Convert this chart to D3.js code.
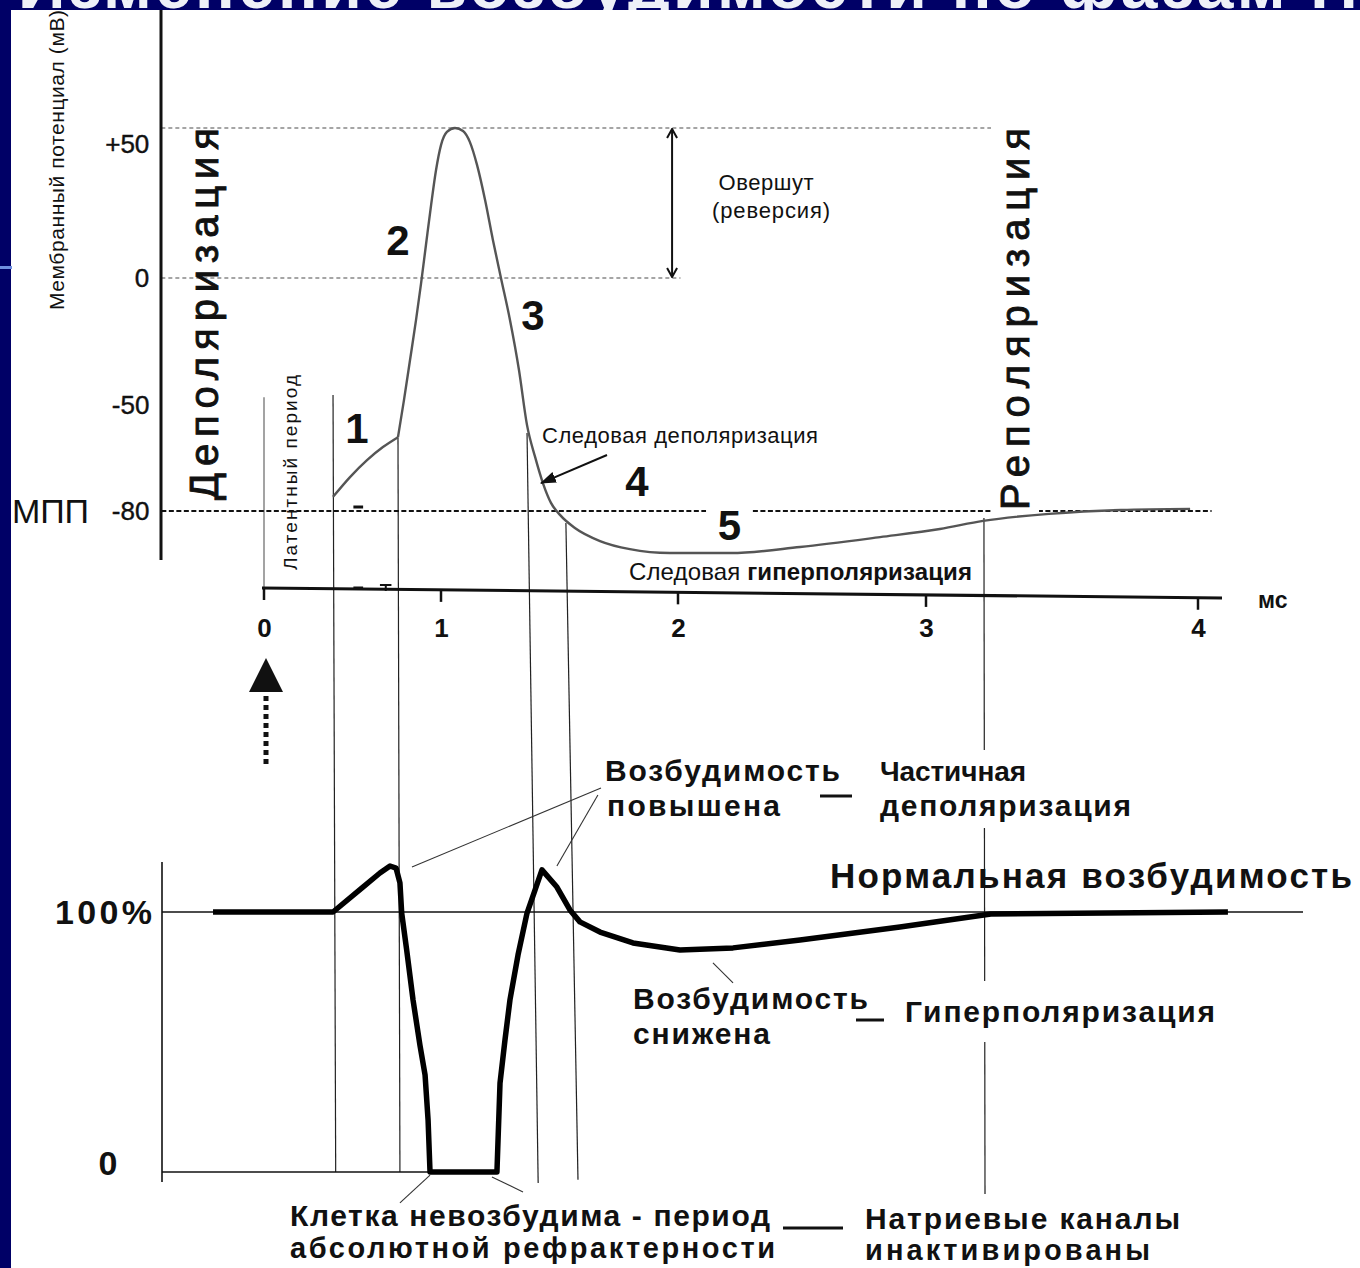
<!DOCTYPE html>
<html lang="ru">
<head>
<meta charset="utf-8">
<title>Изменение возбудимости в разные фазы потенциала действия</title>
<script src="https://cdn.jsdelivr.net/npm/d3@7/dist/d3.min.js"></script>
<style>
  html, body { margin: 0; padding: 0; background: #fff; }
  svg { display: block; }
  text { font-family: 'Liberation Sans', Arial, sans-serif; fill: #111; }
</style>
</head>
<body>
<svg id="chart" width="1360" height="1268"></svg>
<script>
// ---------- axes ----------
const timeTicks = [0, 1, 2, 3, 4];                 // ms
const mvTicks = [50, 0, -50, -80];                 // mV
const mvTickLabels = ['+50', '0', '-50', '-80'];

// ---------- phase 1: local response (ms, mV) ----------
const localMs = [0.390, 0.486, 0.582, 0.672, 0.757];
const localMv = [-76.0, -70.4, -65.6, -61.9, -59.1];

// ---------- phases 2–5: spike, repolarisation, after-potentials ----------
const spikeMs = [0.757, 0.791, 0.825, 0.859, 0.887, 0.915, 0.944, 0.972, 1.000, 1.025,
                 1.059, 1.093, 1.122, 1.152, 1.186, 1.219, 1.253, 1.291, 1.329, 1.363,
                 1.397, 1.430, 1.464, 1.502, 1.565, 1.671, 1.797, 1.966, 2.214, 2.492,
                 2.815, 3.051, 3.210, 3.452, 3.717, 3.971];
const spikeMv = [-59.1, -48.0, -32.3, -16.5, -2.3, 11.0, 24.3, 36.0, 44.3, 48.7,
                 50.0, 49.0, 45.3, 37.7, 26.0, 12.7, 0.0, -16.5, -36.2, -55.7,
                 -64.7, -72.1, -77.7, -81.1, -84.8, -88.5, -90.8, -91.9, -91.9, -90.2,
                 -87.4, -85.1, -82.8, -80.8, -79.7, -79.4];

// ---------- excitability, % of the resting level ----------
const excitMs = [-0.288, 0.390, 0.559, 0.655, 0.712, 0.746, 0.768, 0.778, 0.806, 0.842,
                 0.881, 0.910, 0.927, 0.938, 1.236, 1.249, 1.270, 1.291, 1.325, 1.363,
                 1.397, 1.426, 1.489, 1.544, 1.586, 1.671, 1.810, 2.008, 2.222, 2.492,
                 2.895, 3.238, 4.110];
const excitPct = [100, 100, 109.6, 115.0, 117.7, 116.9, 111.2, 99.6, 85.4, 66.2,
                  48.8, 37.3, 20.0, 0, 0, 34.2, 50.8, 66.2, 83.5, 99.6,
                  108.5, 116.2, 109.6, 100.8, 96.2, 92.3, 88.1, 85.4, 86.2, 89.2,
                  94.2, 99.2, 100];

// ---------- dotted reference levels (mV) and where they stop (ms) ----------
const refLevelMv = [50, 0];
const refLevelEndMs = [3.29, 2.01];
const restMv = -80;
const restSegStartMs = [-0.58, 2.302];
const restSegEndMs = [2.113, 4.05];

// ---------- phase numbers ----------
const phaseNames = ['1', '2', '3', '4', '5'];
const phaseMs = [0.525, 0.757, 1.388, 1.827, 2.207];
const phaseMv = [-56.5, 12.7, -14.6, -71.5, -84.0];

// ---------- vertical guides joining the two panels ----------
const guideTopMs = [0.390, 0.757, 1.363, 1.527, 3.213];
const guideTopMv = [-46.1, -59.1, -57.9, -83.4, -82.0];
const guideBottomMs = [0.405, 0.768, 1.410, 1.578, 3.217];
const guideBottomPct = [0, 0, -4.2, -3.0, -10.0];

// ---------- pointer lines in the excitability panel ----------
const pointerFromMs = [1.675, 1.662, 2.141, 0.768, 1.215];
const pointerFromPct = [147.7, 145.0, 80.4, -11.9, -1.9];
const pointerToMs = [0.836, 1.489, 2.222, 0.938, 1.346];
const pointerToPct = [117.3, 117.7, 72.7, -1.2, -7.7];

const overshootMs = 1.975;

// ================== drawing ==================
const svg = d3.select('#chart');
const W = 1360, H = 1268;
svg.append('rect').attr('width', W).attr('height', H).attr('fill', '#fff');

const x = d3.scaleLinear().domain(timeTicks).range([264, 441, 678, 926, 1198]);
const yMem = d3.scaleLinear().domain([-80, -50, 0, 50]).range([511, 405, 278, 128]);
const yExc = d3.scaleLinear().domain([0, 100]).range([1172, 912]);

const defs = svg.append('defs');
defs.append('marker').attr('id', 'chev').attr('viewBox', '0 0 12 12')
  .attr('refX', 11).attr('refY', 6).attr('markerWidth', 12).attr('markerHeight', 12)
  .attr('markerUnits', 'userSpaceOnUse').attr('orient', 'auto-start-reverse')
  .append('path').attr('d', 'M2,1 L11,6 L2,11').attr('fill', 'none')
  .attr('stroke', '#111').attr('stroke-width', 2);
defs.append('marker').attr('id', 'solidHead').attr('viewBox', '0 0 14 10')
  .attr('refX', 13).attr('refY', 5).attr('markerWidth', 16).attr('markerHeight', 12)
  .attr('markerUnits', 'userSpaceOnUse').attr('orient', 'auto')
  .append('path').attr('d', 'M0,0 L14,5 L0,10 Z').attr('fill', '#111');

function label(g, str, px, py, o = {}) {
  const t = g.append('text').attr('x', px).attr('y', py).text(str)
    .attr('font-size', o.size || 28)
    .attr('font-weight', o.bold ? 'bold' : 'normal')
    .attr('text-anchor', o.anchor || 'start');
  if (o.family) t.attr('font-family', o.family);
  if (o.len) t.attr('textLength', o.len).attr('lengthAdjust', 'spacing');
  if (o.stroke) t.attr('stroke', '#111').attr('stroke-width', o.stroke);
  if (o.rotate) t.attr('transform', `rotate(-90 ${px} ${py})`);
  if (o.bg) {
    const b = t.node().getBBox();
    const pad = o.bg;
    g.insert('rect', () => t.node())
      .attr('x', b.x - pad).attr('y', b.y - pad)
      .attr('width', b.width + 2 * pad).attr('height', b.height + 2 * pad)
      .attr('fill', '#fff')
      .attr('transform', o.rotate ? `rotate(-90 ${px} ${py})` : null);
  }
  return t;
}

const axisX = x(-0.58);

// ---------- guides (drawn first, under everything else) ----------
const gGuides = svg.append('g').attr('stroke', '#222').attr('stroke-width', 1.2);
gGuides.selectAll('line.guide').data(d3.range(guideTopMs.length)).join('line')
  .attr('class', 'guide')
  .attr('x1', i => x(guideTopMs[i])).attr('y1', i => yMem(guideTopMv[i]))
  .attr('x2', i => x(guideBottomMs[i])).attr('y2', i => yExc(guideBottomPct[i]));

// latent period marker at the stimulus moment
const axisLineY = px => 588 + (px - 262) * 10 / 960;
gGuides.append('line').attr('stroke', '#666')
  .attr('x1', x(0)).attr('x2', x(0))
  .attr('y1', yMem(-46.9)).attr('y2', axisLineY(x(0)));

// ---------- upper panel: membrane potential ----------
const gTop = svg.append('g');

// dotted reference levels
gTop.selectAll('line.ref').data(refLevelMv).join('line').attr('class', 'ref')
  .attr('x1', axisX).attr('x2', (d, i) => x(refLevelEndMs[i]))
  .attr('y1', d => yMem(d)).attr('y2', d => yMem(d))
  .attr('stroke', '#888').attr('stroke-width', 1.3).attr('stroke-dasharray', '4,3');

gTop.selectAll('line.rest').data(restSegStartMs).join('line').attr('class', 'rest')
  .attr('x1', d => Math.max(axisX, x(d))).attr('x2', (d, i) => x(restSegEndMs[i]))
  .attr('y1', yMem(restMv)).attr('y2', yMem(restMv))
  .attr('stroke', '#111').attr('stroke-width', 2.2).attr('stroke-dasharray', '5,2.5');

// vertical potential axis
gTop.append('line').attr('x1', 161).attr('x2', 161).attr('y1', 8).attr('y2', 560)
  .attr('stroke', '#111').attr('stroke-width', 3);

// tick labels
const yAxis = d3.axisLeft(yMem).tickValues(mvTicks)
  .tickFormat((d, i) => mvTickLabels[i]).tickSize(0).tickPadding(12);
const gy = gTop.append('g').attr('transform', `translate(${axisX},0)`).call(yAxis);
gy.select('.domain').remove();
gy.selectAll('text').attr('font-size', 26).attr('fill', '#111')
  .attr('stroke', '#111').attr('stroke-width', 0.4)
  .attr('font-family', "'Liberation Sans', Arial, sans-serif")
  .attr('dy', d => d === 50 ? '0.95em' : '0.32em');

label(gTop, 'МПП', 12, 523, { size: 34, len: 77 });

// axis title
label(gTop, 'Мембранный потенциал (мВ)', 64, 310, { size: 21, rotate: true, len: 300 });

// phase names written along the side
const wide = "'DejaVu Sans', Verdana, sans-serif";
label(gTop, 'Деполяризация', 218, 500, { size: 40, rotate: true, len: 372, family: wide, stroke: 0.9 });
label(gTop, 'Реполяризация', 1029, 510, { size: 40, rotate: true, len: 382, bg: 2, family: wide, stroke: 0.9 });
label(gTop, 'Латентный период', 297, 570, { size: 19, rotate: true, len: 195 });

// action potential
const lineMem = d3.line().x(d => x(d[0])).y(d => yMem(d[1])).curve(d3.curveMonotoneX);
gTop.append('path').datum(d3.zip(localMs, localMv)).attr('d', lineMem)
  .attr('fill', 'none').attr('stroke', '#555').attr('stroke-width', 2.4);
gTop.append('path').datum(d3.zip(spikeMs, spikeMv)).attr('d', lineMem)
  .attr('fill', 'none').attr('stroke', '#555').attr('stroke-width', 2.4)
  .attr('stroke-linejoin', 'round');

// time axis (slightly slanted baseline)
gTop.append('line').attr('x1', 262).attr('y1', axisLineY(262))
  .attr('x2', 1222).attr('y2', axisLineY(1222))
  .attr('stroke', '#111').attr('stroke-width', 3);
gTop.selectAll('line.tick').data(timeTicks).join('line').attr('class', 'tick')
  .attr('x1', d => x(d)).attr('x2', d => x(d))
  .attr('y1', d => axisLineY(x(d))).attr('y2', d => axisLineY(x(d)) + 12)
  .attr('stroke', '#111').attr('stroke-width', 2.5);
const xAxis = d3.axisBottom(x).tickValues(timeTicks).tickSize(0).tickPadding(0).tickFormat(d3.format('d'));
const gx = gTop.append('g').attr('transform', 'translate(0,619)').call(xAxis);
gx.select('.domain').remove();
gx.selectAll('text').attr('font-size', 26).attr('font-weight', 'bold').attr('fill', '#111')
  .attr('font-family', "'Liberation Sans', Arial, sans-serif");
label(gTop, 'мс', 1258, 608, { size: 23, bold: true });

// small marks under phase 1
gTop.append('line').attr('x1', x(0.505)).attr('x2', x(0.56)).attr('y1', 507).attr('y2', 507)
  .attr('stroke', '#111').attr('stroke-width', 3);
gTop.append('line').attr('x1', x(0.505)).attr('x2', x(0.56)).attr('y1', 588).attr('y2', 588)
  .attr('stroke', '#111').attr('stroke-width', 3);
gTop.append('path').attr('d', `M${x(0.655)},585 H${x(0.72)} M${x(0.688)},585 V591`)
  .attr('stroke', '#111').attr('stroke-width', 2).attr('fill', 'none');

// phase numbers
gTop.selectAll('text.phase').data(phaseNames).join('text').attr('class', 'phase')
  .attr('x', (d, i) => x(phaseMs[i])).attr('y', (d, i) => yMem(phaseMv[i]) + 15)
  .attr('text-anchor', 'middle').attr('font-size', 42).attr('font-weight', 'bold')
  .text(d => d);

// overshoot double arrow
gTop.append('line').attr('x1', x(overshootMs)).attr('x2', x(overshootMs))
  .attr('y1', yMem(50) + 1).attr('y2', yMem(0) - 1)
  .attr('stroke', '#111').attr('stroke-width', 2)
  .attr('marker-start', 'url(#chev)').attr('marker-end', 'url(#chev)');
label(gTop, 'Овершут', 766, 190, { size: 22, anchor: 'middle', len: 95 });
label(gTop, '(реверсия)', 771, 218, { size: 22, anchor: 'middle', len: 118 });

// after-depolarisation pointer
label(gTop, 'Следовая деполяризация', 542, 443, { size: 22, len: 276 });
gTop.append('line').attr('x1', 607).attr('y1', 455)
  .attr('x2', x(1.422)).attr('y2', yMem(-72.1))
  .attr('stroke', '#111').attr('stroke-width', 2).attr('marker-end', 'url(#solidHead)');

const hyper = gTop.append('text').attr('x', 629).attr('y', 580).attr('font-size', 24)
  .attr('textLength', 343).attr('lengthAdjust', 'spacing');
hyper.append('tspan').text('Следовая ');
hyper.append('tspan').attr('font-weight', 'bold').text('гиперполяризация');

// ---------- stimulus arrow ----------
const gStim = svg.append('g');
gStim.append('path')
  .attr('d', `M${x(0) + 2},658 L${x(0) + 19},692 L${x(0) - 15},692 Z`).attr('fill', '#111');
gStim.append('line').attr('x1', x(0) + 2).attr('x2', x(0) + 2).attr('y1', 696).attr('y2', 766)
  .attr('stroke', '#111').attr('stroke-width', 5).attr('stroke-dasharray', '5,4');

// ---------- lower panel: excitability ----------
const gBot = svg.append('g');
gBot.append('line').attr('x1', 162).attr('x2', 162).attr('y1', 862).attr('y2', 1182)
  .attr('stroke', '#111').attr('stroke-width', 1.6);
gBot.append('line').attr('x1', 162).attr('x2', 1303).attr('y1', yExc(100)).attr('y2', yExc(100))
  .attr('stroke', '#111').attr('stroke-width', 1.4);
gBot.append('line').attr('x1', 162).attr('x2', x(0.938)).attr('y1', yExc(0)).attr('y2', yExc(0))
  .attr('stroke', '#111').attr('stroke-width', 1.4);

label(gBot, '100%', 152, yExc(100) + 12, { size: 34, bold: true, anchor: 'end', len: 97 });
label(gBot, '0', 108, yExc(0) + 3, { size: 34, bold: true, anchor: 'middle' });

gBot.selectAll('line.ptr').data(d3.range(pointerFromMs.length)).join('line').attr('class', 'ptr')
  .attr('x1', i => x(pointerFromMs[i])).attr('y1', i => yExc(pointerFromPct[i]))
  .attr('x2', i => x(pointerToMs[i])).attr('y2', i => yExc(pointerToPct[i]))
  .attr('stroke', '#333').attr('stroke-width', 1.1);

const lineExc = d3.line().x(d => x(d[0])).y(d => yExc(d[1])).curve(d3.curveLinear);
gBot.append('path').datum(d3.zip(excitMs, excitPct)).attr('d', lineExc)
  .attr('fill', 'none').attr('stroke', '#000').attr('stroke-width', 5.5)
  .attr('stroke-linejoin', 'round');

// annotations
const cap = { size: 30, bold: true };
label(gBot, 'Возбудимость', 605, 781, { ...cap, len: 235 });
label(gBot, 'повышена', 607, 816, { ...cap, len: 173 });
label(gBot, 'Частичная', 880, 781, { size: 28, bold: true, len: 146, bg: 6 });
label(gBot, 'деполяризация', 880, 816, { ...cap, len: 251, bg: 6 });
label(gBot, 'Нормальная возбудимость', 830, 888, { size: 35, bold: true, len: 522 });
label(gBot, 'Возбудимость', 633, 1009, { ...cap, len: 235 });
label(gBot, 'снижена', 633, 1044, { ...cap, len: 137 });
label(gBot, 'Гиперполяризация', 905, 1022, { ...cap, len: 310, bg: 14 });
label(gBot, 'Клетка невозбудима - период', 290, 1226, { ...cap, len: 480 });
label(gBot, 'абсолютной рефрактерности', 290, 1258, { size: 29, bold: true, len: 485 });
label(gBot, 'Натриевые каналы', 865, 1229, { ...cap, len: 315, bg: 8 });
label(gBot, 'инактивированы', 865, 1260, { size: 29, bold: true, len: 285 });

// joining dashes between paired captions
const dashes = [[820, 852, 796], [856, 884, 1020], [783, 843, 1228]];
gBot.selectAll('line.dash').data(dashes).join('line').attr('class', 'dash')
  .attr('x1', d => d[0]).attr('x2', d => d[1]).attr('y1', d => d[2]).attr('y2', d => d[2])
  .attr('stroke', '#111').attr('stroke-width', 3);

// ---------- slide frame ----------
const frame = svg.append('g');
frame.append('rect').attr('x', 0).attr('y', 0).attr('width', W).attr('height', 10).attr('fill', '#000066');
frame.append('rect').attr('x', 0).attr('y', 0).attr('width', 11).attr('height', H).attr('fill', '#000066');
frame.append('rect').attr('x', 0).attr('y', 266).attr('width', 12).attr('height', 3).attr('fill', '#6f8fe0');
defs.append('clipPath').attr('id', 'band').append('rect')
  .attr('x', 0).attr('y', 0).attr('width', W).attr('height', 10);
frame.append('text').attr('clip-path', 'url(#band)')
  .attr('x', 18).attr('y', 8).attr('font-size', 66).attr('font-weight', 'bold')
  .attr('textLength', 1390).attr('lengthAdjust', 'spacing')
  .style('fill', '#eef0f8')
  .text('Изменение возбудимости по фазам ПД');
</script>
</body>
</html>
